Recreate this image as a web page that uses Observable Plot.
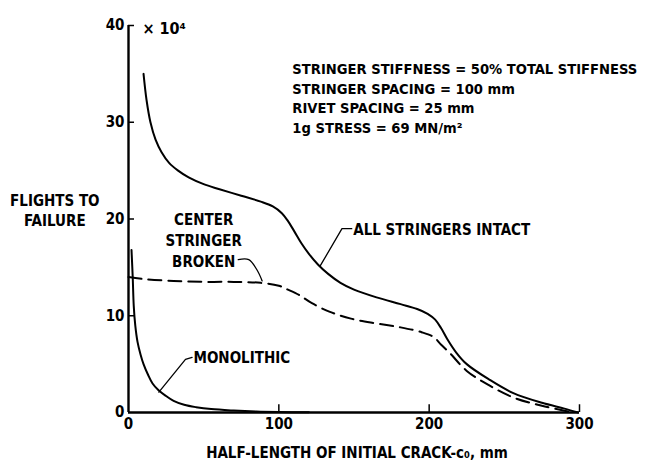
<!DOCTYPE html>
<html>
<head>
<meta charset="utf-8">
<script src="https://cdn.jsdelivr.net/npm/d3@7"></script>
<script src="https://cdn.jsdelivr.net/npm/@observablehq/plot@0.6"></script>
<style>
  html, body { margin: 0; padding: 0; background: #fff; }
  #chart svg { display: block; }
</style>
</head>
<body>
<div id="chart"></div>
<script>
// ---- data (half-length of crack in mm, flights to failure in 10^4) ----
const intactX = [10, 12, 14.6, 18, 22, 27, 33, 40, 50, 60, 75, 88, 96, 102, 106, 110, 115, 120, 126, 133, 141, 150, 165, 181, 192, 199, 204, 208, 212, 218, 225, 240, 256, 275, 290, 299];
const intactY = [35, 32.3, 30, 28.2, 26.9, 25.8, 25.0, 24.3, 23.6, 23.1, 22.4, 21.8, 21.3, 20.6, 19.8, 18.8, 17.5, 16.4, 15.3, 14.3, 13.4, 12.7, 11.9, 11.2, 10.7, 10.2, 9.6, 8.7, 7.6, 6.2, 5.0, 3.4, 2.0, 1.0, 0.4, 0];

const brokenX = [0, 10, 30, 50, 70, 88, 100, 106, 114, 122, 134, 148, 165, 181, 195, 203, 208, 214, 225, 240, 256, 275, 296];
const brokenY = [14.0, 13.8, 13.6, 13.5, 13.5, 13.4, 13.1, 12.7, 12.1, 11.3, 10.4, 9.7, 9.2, 8.8, 8.3, 7.8, 7.0, 6.1, 4.3, 2.8, 1.55, 0.7, 0];

const monoX = [2, 2.8, 3.5, 4.5, 6, 8, 10, 13, 16, 20, 25, 30, 37, 45, 55, 70, 85, 100, 120];
const monoY = [16.8, 14, 11, 9, 7.3, 6, 5, 3.9, 3.0, 2.3, 1.7, 1.2, 0.8, 0.55, 0.35, 0.2, 0.1, 0.05, 0.02];

const xTicks = [0, 100, 200, 300];
const yTicks = [0, 10, 20, 30, 40];

// ---- annotation text and their anchor points (data units) ----
const noteLines = [
  "STRINGER STIFFNESS = 50% TOTAL STIFFNESS",
  "STRINGER SPACING = 100 mm",
  "RIVET SPACING = 25 mm",
  "1g STRESS = 69 MN/m²"
];
const noteAt = [109, 32.6];
const scaleNote = "× 10⁴";
const scaleNoteAt = [9.3, 39.6];
const yTitle = "FLIGHTS TO\nFAILURE";
const yTitleAt = [-49, 21.0];
const xTitle = "HALF-LENGTH OF INITIAL CRACK-c₀, mm";
const xTitleAt = [152, -4.25];

const labelIntact = "ALL STRINGERS INTACT";
const labelIntactAt = [149.5, 18.8];
const leaderIntact = [[148.5, 19.0], [142, 19.0], [127.7, 15.2]];

const labelBroken = "CENTER\nSTRINGER\nBROKEN";
const labelBrokenAt = [50, 17.9];
const leaderBroken = [[73, 15.8], [80, 15.8], [85.6, 14.7], [88.9, 13.6]];

const labelMono = "MONOLITHIC";
const labelMonoAt = [43.2, 5.6];
const leaderMono = [[42.3, 5.7], [37.9, 5.5], [20.2, 2.1]];

const toPts = (xs, ys) => xs.map((x, i) => ({x, y: ys[i]}));
const leaderPts = (arr) => arr.map(([x, y]) => ({x, y}));

const font = "'DejaVu Sans Condensed', sans-serif";
const fs = 15;

const chart = Plot.plot({
  width: 649,
  height: 468,
  marginLeft: 128,
  marginRight: 70,
  marginTop: 25,
  marginBottom: 56,
  style: {fontFamily: font, fontSize: fs + "px", fontWeight: "bold", color: "#000", background: "#fff"},
  x: {domain: [0, 300]},
  y: {domain: [0, 40]},
  marks: [
    Plot.axisX(xTicks, {tickSize: 0, tickPadding: 6, label: null, fontSize: fs, fontWeight: "bold"}),
    Plot.axisY(yTicks, {tickSize: 0, tickPadding: 4, label: null, fontSize: fs, fontWeight: "bold"}),
    // inward tick marks
    Plot.ruleX(xTicks.slice(1), {y1: 0, y2: 0.8, stroke: "#000", strokeWidth: 1.5}),
    Plot.ruleY(yTicks.slice(1), {x1: 0, x2: 4, stroke: "#000", strokeWidth: 1.5}),
    // axis lines
    Plot.ruleX([0], {stroke: "#000", strokeWidth: 2.4}),
    Plot.ruleY([0], {stroke: "#000", strokeWidth: 2.4}),
    // curves
    Plot.line(toPts(intactX, intactY), {x: "x", y: "y", curve: "catmull-rom", stroke: "#000", strokeWidth: 2}),
    Plot.line(toPts(brokenX, brokenY), {x: "x", y: "y", curve: "catmull-rom", stroke: "#000", strokeWidth: 2, strokeDasharray: "13,7"}),
    Plot.line(toPts(monoX, monoY), {x: "x", y: "y", curve: "catmull-rom", stroke: "#000", strokeWidth: 2}),
    // leaders
    Plot.line(leaderPts(leaderIntact), {x: "x", y: "y", stroke: "#000", strokeWidth: 1.3}),
    Plot.line(leaderPts(leaderBroken), {x: "x", y: "y", curve: "catmull-rom", stroke: "#000", strokeWidth: 1.3}),
    Plot.line(leaderPts(leaderMono), {x: "x", y: "y", stroke: "#000", strokeWidth: 1.3}),
    // texts
    Plot.text([noteLines.join("\n")], {x: noteAt[0], y: noteAt[1], textAnchor: "start", lineHeight: 1.37, fontSize: 14.6}),
    Plot.text([scaleNote], {x: scaleNoteAt[0], y: scaleNoteAt[1], textAnchor: "start", fontSize: 16}),
    Plot.text([yTitle], {x: yTitleAt[0], y: yTitleAt[1], textAnchor: "middle", lineHeight: 1.33, fontSize: fs}),
    Plot.text([xTitle], {x: xTitleAt[0], y: xTitleAt[1], textAnchor: "middle", fontSize: fs}),
    Plot.text([labelIntact], {x: labelIntactAt[0], y: labelIntactAt[1], textAnchor: "start", fontSize: fs}),
    Plot.text([labelBroken], {x: labelBrokenAt[0], y: labelBrokenAt[1], textAnchor: "middle", lineHeight: 1.4, fontSize: fs}),
    Plot.text([labelMono], {x: labelMonoAt[0], y: labelMonoAt[1], textAnchor: "start", fontSize: fs})
  ]
});
document.getElementById("chart").appendChild(chart);
</script>
</body>
</html>
